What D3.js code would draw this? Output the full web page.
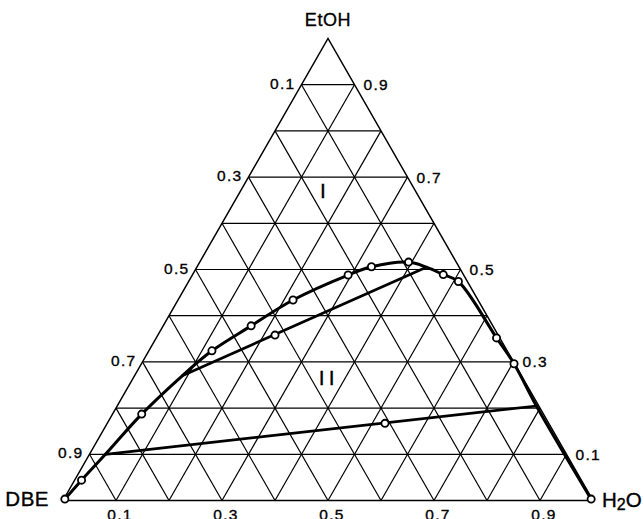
<!DOCTYPE html>
<html>
<head>
<meta charset="utf-8">
<script src="https://cdn.jsdelivr.net/npm/d3@7"></script>
<style>
  html, body { margin: 0; padding: 0; background: #fff; }
  svg { display: block; }
  text { font-family: "Liberation Sans", Arial, Helvetica, sans-serif; fill: #000; stroke: #000; stroke-width: 0.35px; }
</style>
</head>
<body>
<svg id="chart" width="644" height="519"></svg>
<script>
// Ternary phase diagram DBE / EtOH / H2O.
// Compositions are mass fractions: H2O (toward the right corner) and EtOH (toward the top);
// DBE = 1 - H2O - EtOH.

// Measured points on the binodal curve (open circles)
const binodalH2O  = [0.002, 0.013, 0.055, 0.119, 0.166, 0.217, 0.294, 0.329, 0.394, 0.473, 0.509, 0.642, 0.703, 0.995];
const binodalEtOH = [0.003, 0.044, 0.187, 0.324, 0.378, 0.434, 0.488, 0.506, 0.516, 0.489, 0.474, 0.352, 0.296, 0.003];

// Tie lines: end compositions on the binodal
const tieStartH2O  = [0.090, 0.030];
const tieStartEtOH = [0.270, 0.100];
const tieEndH2O    = [0.433, 0.791];
const tieEndEtOH   = [0.505, 0.2045];

// Overall (feed) compositions lying on the tie lines
const feedH2O  = [0.221, 0.524];
const feedEtOH = [0.358, 0.167];

// Axis tick labels
const gridSteps = [0.1, 0.2, 0.3, 0.4, 0.5, 0.6, 0.7, 0.8, 0.9];
const leftTicks = [0.1, 0.3, 0.5, 0.7, 0.9];    // DBE fraction, left side
const rightTicks = [0.9, 0.7, 0.5, 0.3, 0.1];   // EtOH fraction, right side
const bottomTicks = [0.1, 0.3, 0.5, 0.7, 0.9];  // H2O fraction, base
const cornerLabels = ["DBE", "EtOH", "H2O"];
const regionLabels = ["I", "II"];

const svg = d3.select("#chart");
svg.append("rect").attr("width", 644).attr("height", 519).attr("fill", "#fff");

// Projection: horizontal position from (H2O + EtOH/2), vertical from EtOH
const px = d3.scaleLinear().domain([0, 1]).range([63, 593]);
const py = d3.scaleLinear().domain([0, 1]).range([500.5, 38.5]);
const X = (w, e) => px(w + e / 2);
const Y = (w, e) => py(e);
const P = (w, e) => [X(w, e), Y(w, e)];

const line = d3.line();

// Grid
const grid = svg.append("g").attr("stroke", "#000").attr("stroke-width", 1.2).attr("fill", "none");
gridSteps.forEach(k => {
  // constant EtOH
  grid.append("path").attr("d", line([P(0, k), P(1 - k, k)]));
  // constant H2O
  grid.append("path").attr("d", line([P(k, 0), P(k, 1 - k)]));
  // constant DBE
  grid.append("path").attr("d", line([P(1 - k, 0), P(0, 1 - k)]));
});

// Triangle outline
svg.append("path")
  .attr("d", line([P(0, 0), P(1, 0), P(0, 1)]) + "Z")
  .attr("fill", "none").attr("stroke", "#000").attr("stroke-width", 1.5)
  .attr("stroke-linejoin", "miter");

// Binodal curve: measured points plus tie-line ends, ordered along the curve
const curvePts = [];
binodalH2O.forEach((w, i) => curvePts.push(P(w, binodalEtOH[i])));
tieStartH2O.forEach((w, i) => curvePts.push(P(w, tieStartEtOH[i])));
tieEndH2O.forEach((w, i) => curvePts.push(P(w, tieEndEtOH[i])));
const cx = X(0.5, 0.15), cy = Y(0.5, 0.15);
const along = p => {
  let a = Math.atan2(cy - p[1], p[0] - cx);
  if (a < -Math.PI / 2) a += 2 * Math.PI;
  return a;
};
curvePts.sort((a, b) => along(b) - along(a));

svg.append("path")
  .attr("d", d3.line().curve(d3.curveCatmullRom.alpha(0.5))(curvePts))
  .attr("fill", "none").attr("stroke", "#000").attr("stroke-width", 3)
  .attr("stroke-linejoin", "round").attr("stroke-linecap", "round");

// Tie lines
tieStartH2O.forEach((w, i) => {
  svg.append("path")
    .attr("d", line([P(w, tieStartEtOH[i]), P(tieEndH2O[i], tieEndEtOH[i])]))
    .attr("fill", "none").attr("stroke", "#000").attr("stroke-width", 2.7)
    .attr("stroke-linecap", "round");
});

// Open-circle markers
const markers = binodalH2O.map((w, i) => P(w, binodalEtOH[i]))
  .concat(feedH2O.map((w, i) => P(w, feedEtOH[i])));
svg.append("g").selectAll("circle").data(markers).join("circle")
  .attr("cx", d => d[0]).attr("cy", d => d[1]).attr("r", 3.6)
  .attr("fill", "#fff").attr("stroke", "#000").attr("stroke-width", 1.8);

// Tick labels
const tickFont = 15.5;
const fmt = d3.format(".1f");
svg.append("g").selectAll("text").data(leftTicks).join("text")
  .attr("x", d => X(0, 1 - d) - 6).attr("y", d => Y(0, 1 - d) + 4)
  .attr("text-anchor", "end").attr("font-size", tickFont)
  .attr("letter-spacing", 1.3).text(fmt);
svg.append("g").selectAll("text").data(rightTicks).join("text")
  .attr("x", d => X(1 - d, d) + 9).attr("y", d => Y(1 - d, d) + 5.5)
  .attr("text-anchor", "start").attr("font-size", tickFont)
  .attr("letter-spacing", 1.3).text(fmt);
svg.append("g").selectAll("text").data(bottomTicks).join("text")
  .attr("x", d => X(d, 0) + 4).attr("y", Y(0, 0) + 19.5)
  .attr("text-anchor", "middle").attr("font-size", tickFont)
  .attr("letter-spacing", 1.3).text(fmt);

// Corner labels
svg.append("text").attr("x", X(0, 0) - 14).attr("y", Y(0, 0) + 5)
  .attr("text-anchor", "end").attr("font-size", 20.5).attr("letter-spacing", 0.5)
  .text(cornerLabels[0]);
svg.append("text").attr("x", X(0, 1)).attr("y", 26)
  .attr("text-anchor", "middle").attr("font-size", 18).attr("letter-spacing", 0.6)
  .text(cornerLabels[1]);
const h2o = svg.append("text").attr("x", X(1, 0) + 9).attr("y", Y(1, 0) + 6.5)
  .attr("text-anchor", "start").attr("font-size", 20.5);
h2o.append("tspan").text(cornerLabels[2].slice(0, 1));
h2o.append("tspan").attr("font-size", 16).attr("dy", 2.5).text(cornerLabels[2].slice(1, 2));
h2o.append("tspan").attr("dy", -2.5).text(cornerLabels[2].slice(2));

// Region labels: I = one phase, II = two phases
svg.append("text").attr("x", X(0.163, 0.655)).attr("y", Y(0, 0.655))
  .attr("text-anchor", "middle").attr("font-size", 21).text(regionLabels[0]);
svg.append("text").attr("x", X(0.3725, 0.25) + 2).attr("y", Y(0, 0.25))
  .attr("text-anchor", "middle").attr("font-size", 21).attr("letter-spacing", 4)
  .text(regionLabels[1]);
</script>
</body>
</html>
